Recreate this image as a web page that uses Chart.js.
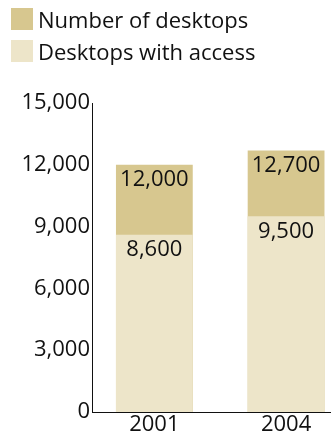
<!DOCTYPE html>
<html>
<head>
<meta charset="utf-8">
<script src="https://cdn.jsdelivr.net/npm/chart.js@4"></script>
<style>
    body { margin: 0; background: #fff; }
    #wrap { position: relative; width: 333px; height: 437px; }
    #legend { position: absolute; left: 11px; top: 8px; font: 22px "Open Sans", "Noto Sans", sans-serif; color: #111; }
    .item { display: flex; align-items: center; height: 22px; margin-bottom: 10px; white-space: nowrap; }
    .swatch { width: 22px; height: 22px; margin-right: 5px; }
</style>
</head>
<body>
<div id="wrap">
    <canvas id="desktopChart" width="333" height="437"></canvas>
    <div id="legend"></div>
</div>
<script>
const years = [2001, 2004];
const desktopsTotal = [12000, 12700];
const desktopsWithAccess = [8600, 9500];
const yTicks = [0, 3000, 6000, 9000, 12000, 15000];

const darkTan = '#d7c78f';
const lightTan = '#ede5c9';
const fontFamily = '"Open Sans", "Noto Sans", sans-serif';

// write each value just under the top of its bar
const barLabels = {
    id: 'barLabels',
    afterDatasetsDraw(chart) {
        const ctx = chart.ctx;
        ctx.save();
        ctx.fillStyle = '#111';
        ctx.font = '22px ' + fontFamily;
        ctx.textAlign = 'center';
        ctx.textBaseline = 'middle';
        chart.data.datasets.forEach((ds, i) => {
            chart.getDatasetMeta(i).data.forEach((bar, j) => {
                ctx.fillText(ds.data[j].y.toLocaleString('en-US'), bar.x, bar.y + 15);
            });
        });
        ctx.restore();
    }
};

const chart = new Chart(document.getElementById('desktopChart'), {
    type: 'bar',
    data: {
        datasets: [
            {
                label: 'Desktops with access',
                data: years.map((yr, i) => ({ x: yr, y: desktopsWithAccess[i] })),
                backgroundColor: lightTan,
                grouped: false
            },
            {
                label: 'Number of desktops',
                data: years.map((yr, i) => ({ x: yr, y: desktopsTotal[i] })),
                backgroundColor: darkTan,
                grouped: false
            }
        ]
    },
    options: {
        responsive: false,
        animation: false,
        categoryPercentage: 0.583,
        barPercentage: 1,
        layout: { padding: { top: 103, right: 3, left: 0, bottom: 0 } },
        plugins: {
            legend: { display: false },
            tooltip: { enabled: false }
        },
        scales: {
            x: {
                type: 'linear',
                offset: false,
                min: 1999.58,
                max: 2005,
                afterBuildTicks: axis => { axis.ticks = years.map(v => ({ value: v })); },
                afterFit: axis => { axis.height = 25; },
                grid: { display: false, drawTicks: false, offset: false },
                border: { color: '#111', width: 1 },
                ticks: {
                    color: '#111',
                    padding: 0,
                    font: { family: fontFamily, size: 22 },
                    callback: v => String(v)
                }
            },
            y: {
                min: 0,
                max: 15000,
                afterBuildTicks: axis => { axis.ticks = yTicks.map(v => ({ value: v })); },
                afterFit: axis => { axis.width = 92; },
                grid: { display: false, drawTicks: false },
                border: { color: '#111', width: 1 },
                ticks: {
                    color: '#111',
                    padding: 2,
                    font: { family: fontFamily, size: 22 },
                    callback: v => v.toLocaleString('en-US')
                }
            }
        }
    },
    plugins: [barLabels]
});

// legend in the same order as the reference: total first
const legend = document.getElementById('legend');
chart.data.datasets.slice().reverse().forEach(ds => {
    const item = document.createElement('div');
    item.className = 'item';
    item.innerHTML = `<span class="swatch" style="background:${ds.backgroundColor}"></span>${ds.label}`;
    legend.appendChild(item);
});
</script>
</body>
</html>
